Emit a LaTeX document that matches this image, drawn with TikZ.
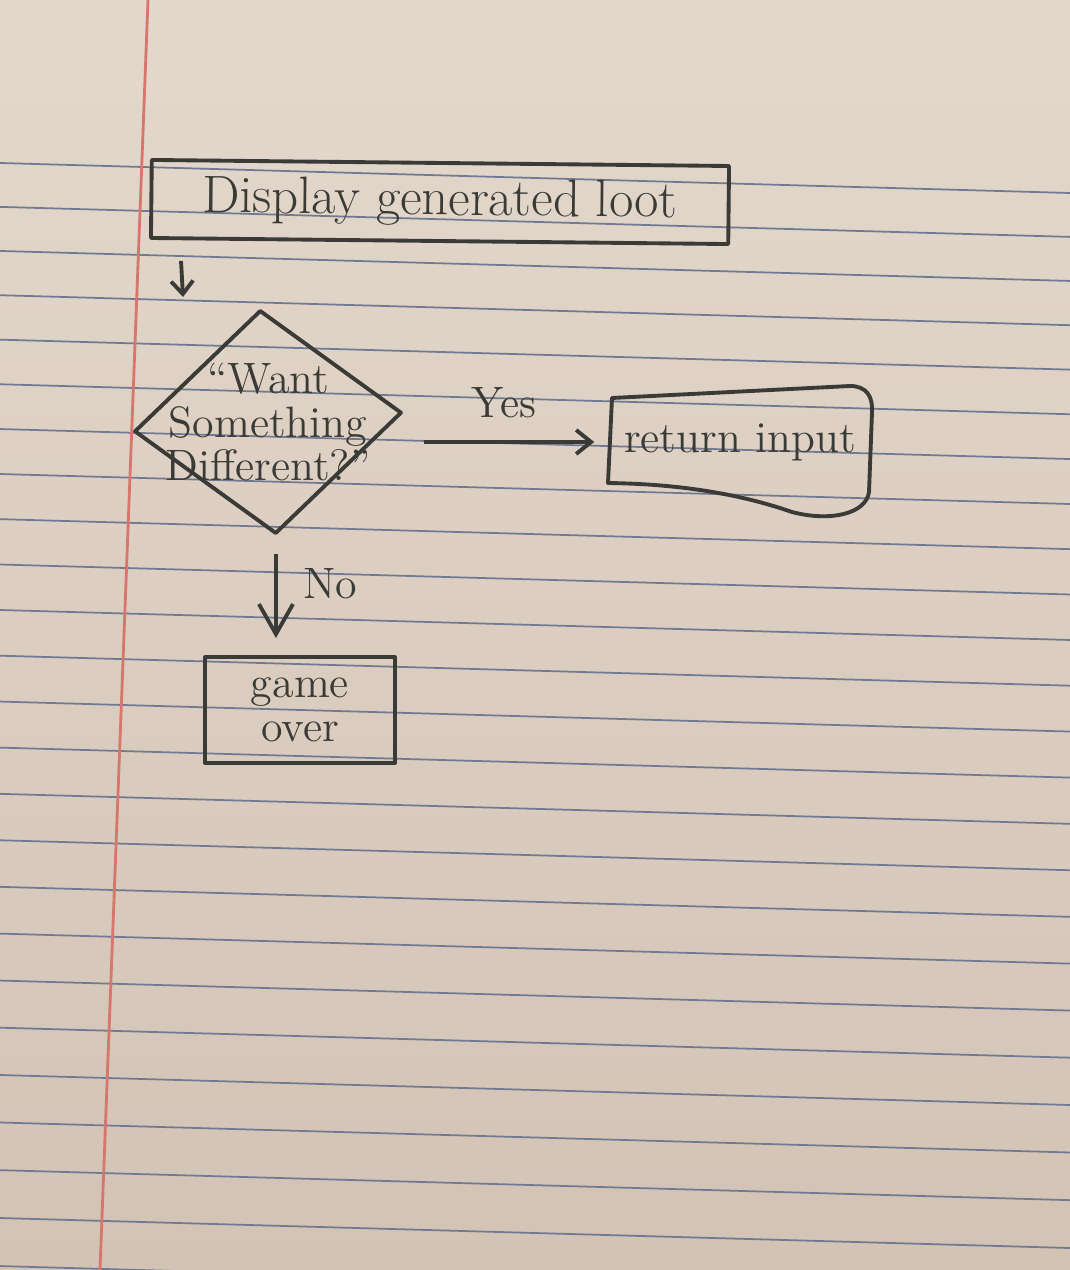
\documentclass[tikz,border=0pt]{standalone}
\usepackage{tikz}
\usetikzlibrary{calc,arrows.meta,shapes.geometric}
\usepackage{xcolor}
\definecolor{paperTop}{RGB}{228,216,204}
\definecolor{paperBot}{RGB}{210,195,181}
\definecolor{ruleblue}{RGB}{112,122,146}
\definecolor{marginred}{RGB}{214,118,108}
\definecolor{inkgrey}{RGB}{58,58,54}

\begin{document}
\begin{tikzpicture}[x=0.01cm, y=-0.01cm, line join=round,
  ink/.style={draw=inkgrey, line width=1.1pt},
  hand/.style={text=inkgrey, font=\fontsize{12.5}{12.5}\selectfont},
  box/.style={ink, hand, rectangle, inner sep=0pt},
  decision/.style={ink, diamond, inner sep=0pt, minimum width=2.68cm, minimum height=2.24cm},
  rule/.style={draw=ruleblue, line width=0.5pt},
  margin/.style={draw=marginred, line width=0.8pt}]
  \useasboundingbox (0,0) rectangle (1070,1270);

  % Lined paper (rules drop slightly to the right, margin leans left)
  \shade[top color=paperTop, bottom color=paperBot] (0,0) rectangle (1070,1270);
  \foreach \i in {0,...,24} {
    \pgfmathsetmacro{\yl}{163+43.8*\i+0.09*\i*\i}
    \draw[rule] (0,\yl) -- (1070,\yl+30);
  }
  \draw[margin] (148,0) -- (100,1270);

  % Boxes
  \node[box, font=\fontsize{15}{18}\selectfont, minimum width=5.77cm, minimum height=0.78cm, rotate=-0.6] (loot) at (440,202) {Display generated loot};
  \node[decision, rotate=4, label={[hand, align=center]center:{``Want\\Something\\Different?''}}] (ask) at (268,422) {};
  \node[hand, inner sep=0pt, minimum width=2.7cm, minimum height=1.1cm] (ret) at (740,442) {return input};
  \node[box, minimum width=1.9cm, minimum height=1.06cm, align=center] (over) at (300,710) {game\\over};

  % Outline of the return box (wavy bottom edge)
  \draw[ink] (608,483) -- (612,398) -- (850,386)
    .. controls (866,386) and (873,396) .. (872,412) -- (869,492)
    .. controls (866,514) and (830,522) .. (792,512)
    .. controls (740,494) and (680,484) .. cycle;

  % Arrows
  \coordinate (drop) at (183,297);
  \draw[ink, -{Straight Barb[length=1.3mm,width=2.2mm]}] ([xshift=0.32cm, yshift=-0.21cm]loot.south west) -- (drop);
  \draw[ink, -{Straight Barb[length=1.5mm,width=2.4mm]}, shorten <=0.2cm, shorten >=0.1cm]
    (ask.east |- ret.west) -- (ret.west) node[midway, above=3pt, hand] {Yes};
  \draw[ink, -{Straight Barb[length=3mm,width=3.4mm]}, shorten <=0.18cm, shorten >=0.17cm]
    (ask.south) -- (ask.south |- over.north) node[pos=0.4, right=4pt, hand] {No};
\end{tikzpicture}
\end{document}
